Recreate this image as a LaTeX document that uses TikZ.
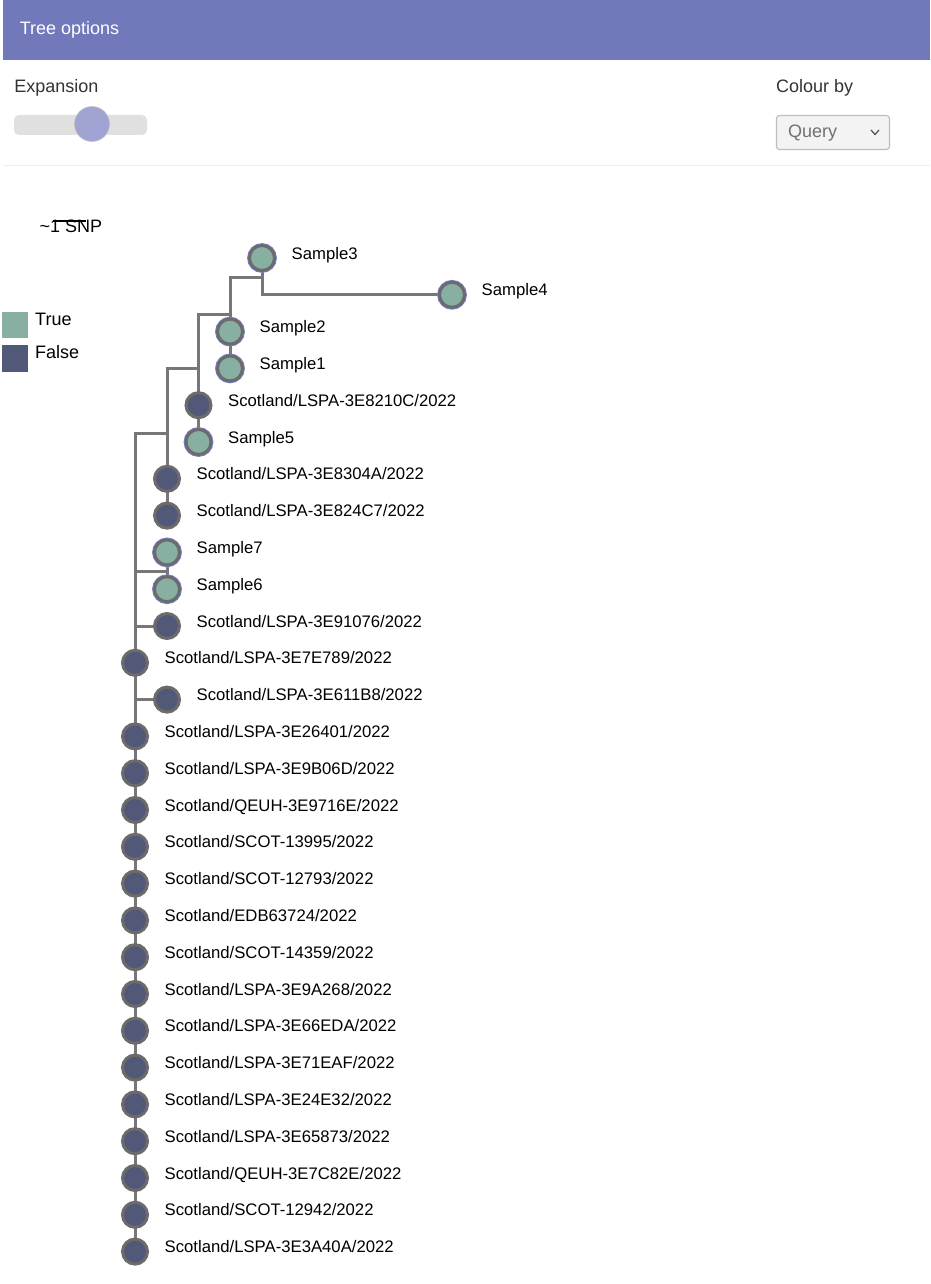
\documentclass[tikz,border=0pt]{standalone}
\usepackage{fontspec}
\setmainfont{Liberation Sans}
\usetikzlibrary{backgrounds}
\definecolor{headerblue}{HTML}{7279BB}
\definecolor{truefill}{HTML}{87AFA2}
\definecolor{falsefill}{HTML}{525878}
\definecolor{edgegray}{HTML}{777777}
\definecolor{ringgray}{HTML}{6B6B6B}
\definecolor{ringblue}{HTML}{7A7EC8}
\definecolor{thumbcol}{HTML}{A0A4D3}
\definecolor{trackcol}{HTML}{E0E0E0}
\definecolor{ddfill}{HTML}{F3F3F3}
\definecolor{ddborder}{HTML}{BDBDBD}
\definecolor{sepgray}{HTML}{EEEEEE}
\definecolor{uitext}{HTML}{333333}
\definecolor{querytext}{HTML}{707070}
\newcommand\treefont{\fontsize{16.7}{20}\selectfont}
\newcommand\uifont{\fontsize{18}{22}\selectfont}
\tikzset{
  tn/.style={circle, minimum size=25pt, inner sep=0pt, line width=3pt, draw=ringgray},
  truenode/.style={tn, fill=truefill, preaction={draw=ringblue, line width=4.8pt}},
  falsenode/.style={tn, fill=falsefill},
  lab/.style={anchor=base west, inner sep=0pt, font=\treefont, text=black},
  uilab/.style={anchor=base west, inner sep=0pt, font=\uifont},
  edge/.style={draw=edgegray, line width=3pt, line cap=rect},
}
\begin{document}
\begin{tikzpicture}[x=1pt,y=-1pt]
\useasboundingbox (0,0) rectangle (930,1284);
\begin{pgfonlayer}{background}
\fill[white] (0,0) rectangle (930,1284);
\end{pgfonlayer}
% header
\fill[headerblue] (3,0) rectangle (930,60);
\node[uilab, text=white] (title) at (19.6,35) {Tree options};
% expansion slider
\node[uilab, text=uitext] (explab) at (14.2,92.5) {Expansion};
\fill[trackcol, rounded corners=5pt] (14,115) rectangle (147,135);
\node[circle, fill=thumbcol, draw=black!25, line width=0.5pt, minimum size=35pt, inner sep=0pt] (thumb) at (92,124) {};
% colour by
\node[uilab, text=uitext] (collab) at (775.8,92.7) {Colour by};
\node[draw=ddborder, fill=ddfill, line width=1.2pt, rounded corners=3pt, minimum width=113pt, minimum height=34pt, inner sep=0pt] (dd) at (833,132.5) {};
\node[uilab, text=querytext] (query) at (788,137.3) {Query};
\draw[black!70, line width=1.2pt] (871,130) -- (875,134.5) -- (879,130);
% separator
\draw[sepgray, line width=1pt] (3,166) -- (930,166);
% scale bar
\node[uilab, text=black] (snp) at (39.5,232) {{\char"7E}1 SNP};
\draw[black, line width=1.1pt] (52.7,221) -- (86,221);
% legend
\fill[truefill] (2,312) rectangle (28.3,338.3);
\fill[falsefill] (2,344.5) rectangle (28.3,371.5);
\node[uilab, text=black] (ltrue) at (35,325) {True};
\node[uilab, text=black] (lfalse) at (35,358.3) {False};

% tree nodes
\node[truenode] (s3) at (262,258) {};
\node[truenode] (s4) at (452,294.8) {};
\node[truenode] (s2) at (230,331.6) {};
\node[truenode] (s1) at (230,368.4) {};
\node[falsenode] (r4) at (198.5,405.2) {};
\node[truenode] (s5) at (198.5,442) {};
\node[falsenode] (r6) at (167,478.8) {};
\node[falsenode] (r7) at (167,515.6) {};
\node[truenode] (s7) at (167,552.4) {};
\node[truenode] (s6) at (167,589.2) {};
\node[falsenode] (r10) at (167,626) {};
\node[falsenode] (r11) at (135,662.8) {};
\node[falsenode] (r12) at (167,699.6) {};
\node[falsenode] (r13) at (135,736.4) {};
\node[falsenode] (r14) at (135,773.2) {};
\node[falsenode] (r15) at (135,810) {};
\node[falsenode] (r16) at (135,846.8) {};
\node[falsenode] (r17) at (135,883.6) {};
\node[falsenode] (r18) at (135,920.4) {};
\node[falsenode] (r19) at (135,957.2) {};
\node[falsenode] (r20) at (135,994) {};
\node[falsenode] (r21) at (135,1030.8) {};
\node[falsenode] (r22) at (135,1067.6) {};
\node[falsenode] (r23) at (135,1104.4) {};
\node[falsenode] (r24) at (135,1141.2) {};
\node[falsenode] (r25) at (135,1178) {};
\node[falsenode] (r26) at (135,1214.8) {};
\node[falsenode] (r27) at (135,1251.6) {};

% labels
\node[lab] (ts3) at ([xshift=29.5pt,yshift=-1pt]s3.center) {Sample3};
\node[lab] (ts4) at ([xshift=29.5pt,yshift=-1pt]s4.center) {Sample4};
\node[lab] (ts2) at ([xshift=29.5pt,yshift=-1pt]s2.center) {Sample2};
\node[lab] (ts1) at ([xshift=29.5pt,yshift=-1pt]s1.center) {Sample1};
\node[lab] (t4) at ([xshift=29.5pt,yshift=-1pt]r4.center) {Scotland/LSPA-3E8210C/2022};
\node[lab] (ts5) at ([xshift=29.5pt,yshift=-1pt]s5.center) {Sample5};
\node[lab] (t6) at ([xshift=29.5pt,yshift=-1pt]r6.center) {Scotland/LSPA-3E8304A/2022};
\node[lab] (t7) at ([xshift=29.5pt,yshift=-1pt]r7.center) {Scotland/LSPA-3E824C7/2022};
\node[lab] (ts7) at ([xshift=29.5pt,yshift=-1pt]s7.center) {Sample7};
\node[lab] (ts6) at ([xshift=29.5pt,yshift=-1pt]s6.center) {Sample6};
\node[lab] (t10) at ([xshift=29.5pt,yshift=-1pt]r10.center) {Scotland/LSPA-3E91076/2022};
\node[lab] (t11) at ([xshift=29.5pt,yshift=-1pt]r11.center) {Scotland/LSPA-3E7E789/2022};
\node[lab] (t12) at ([xshift=29.5pt,yshift=-1pt]r12.center) {Scotland/LSPA-3E611B8/2022};
\node[lab] (t13) at ([xshift=29.5pt,yshift=-1pt]r13.center) {Scotland/LSPA-3E26401/2022};
\node[lab] (t14) at ([xshift=29.5pt,yshift=-1pt]r14.center) {Scotland/LSPA-3E9B06D/2022};
\node[lab] (t15) at ([xshift=29.5pt,yshift=-1pt]r15.center) {Scotland/QEUH-3E9716E/2022};
\node[lab] (t16) at ([xshift=29.5pt,yshift=-1pt]r16.center) {Scotland/SCOT-13995/2022};
\node[lab] (t17) at ([xshift=29.5pt,yshift=-1pt]r17.center) {Scotland/SCOT-12793/2022};
\node[lab] (t18) at ([xshift=29.5pt,yshift=-1pt]r18.center) {Scotland/EDB63724/2022};
\node[lab] (t19) at ([xshift=29.5pt,yshift=-1pt]r19.center) {Scotland/SCOT-14359/2022};
\node[lab] (t20) at ([xshift=29.5pt,yshift=-1pt]r20.center) {Scotland/LSPA-3E9A268/2022};
\node[lab] (t21) at ([xshift=29.5pt,yshift=-1pt]r21.center) {Scotland/LSPA-3E66EDA/2022};
\node[lab] (t22) at ([xshift=29.5pt,yshift=-1pt]r22.center) {Scotland/LSPA-3E71EAF/2022};
\node[lab] (t23) at ([xshift=29.5pt,yshift=-1pt]r23.center) {Scotland/LSPA-3E24E32/2022};
\node[lab] (t24) at ([xshift=29.5pt,yshift=-1pt]r24.center) {Scotland/LSPA-3E65873/2022};
\node[lab] (t25) at ([xshift=29.5pt,yshift=-1pt]r25.center) {Scotland/QEUH-3E7C82E/2022};
\node[lab] (t26) at ([xshift=29.5pt,yshift=-1pt]r26.center) {Scotland/SCOT-12942/2022};
\node[lab] (t27) at ([xshift=29.5pt,yshift=-1pt]r27.center) {Scotland/LSPA-3E3A40A/2022};

% internal branch points
\coordinate (j1) at (230,277);
\coordinate (j2) at (198.5,314);
\coordinate (j3) at (167,368);
\coordinate (j4) at (135,433);
\coordinate (j5) at (135,571.5);

\begin{pgfonlayer}{background}
\draw[edge] (s3.center) |- (s4.center);
\draw[edge] (j1) -| (s3.center);
\draw[edge] (j1) -- (s2.center) -- (s1.center);
\draw[edge] (j2) -| (j1);
\draw[edge] (j2) -- (r4.center) -- (s5.center);
\draw[edge] (j3) -| (j2);
\draw[edge] (j3) -- (r6.center) -- (r7.center);
\draw[edge] (j4) -| (j3);
\draw[edge] (j4) -- (r11.center);
\draw[edge] (j5) -- (j5 -| s7);
\draw[edge] (s7.center) -- (s6.center);
\draw[edge] (r11.center) |- (r10.center);
\draw[edge] (r11.center) |- (r12.center);
\draw[edge] (r11.center) -- (r13.center) -- (r14.center) -- (r15.center) -- (r16.center) -- (r17.center) -- (r18.center) -- (r19.center) -- (r20.center) -- (r21.center) -- (r22.center) -- (r23.center) -- (r24.center) -- (r25.center) -- (r26.center) -- (r27.center);
\end{pgfonlayer}
\end{tikzpicture}
\end{document}
